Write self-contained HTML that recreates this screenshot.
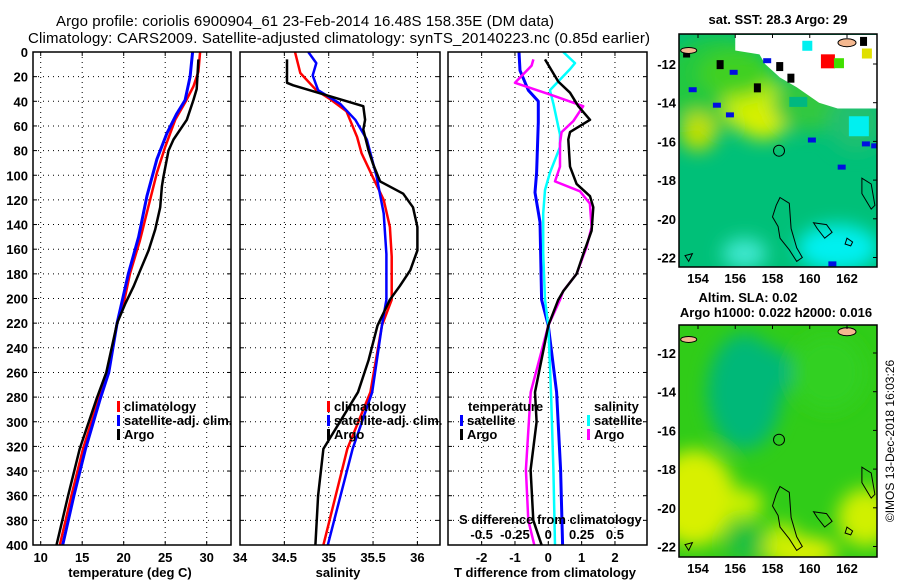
<!DOCTYPE html>
<html><head><meta charset="utf-8"><style>
html,body{margin:0;padding:0;background:#fff;}
svg{display:block;font-family:"Liberation Sans",sans-serif;}
.tk{font-size:13px;font-weight:bold;}
</style></head><body>
<svg id="s" width="900" height="580" viewBox="0 0 900 580" xmlns="http://www.w3.org/2000/svg">
<defs>
<filter id="bl" x="-50%" y="-50%" width="200%" height="200%"><feGaussianBlur stdDeviation="9"/></filter>
<clipPath id="c1"><rect x="33" y="52" width="198" height="493"/></clipPath>
<clipPath id="c2"><rect x="240" y="52" width="200" height="493"/></clipPath>
<clipPath id="c3"><rect x="448" y="52" width="199" height="493"/></clipPath>
<clipPath id="m1"><rect x="679" y="34" width="198" height="233"/></clipPath>
<clipPath id="m2"><rect x="679" y="325" width="198" height="232"/></clipPath>
</defs>
<text x="305" y="26" font-size="15" text-anchor="middle" textLength="498">Argo profile: coriolis 6900904_61 23-Feb-2014 16.48S 158.35E (DM data)</text>
<text x="339" y="43" font-size="15" text-anchor="middle" textLength="622">Climatology: CARS2009. Satellite-adjusted climatology: synTS_20140223.nc (0.85d earlier)</text>
<g id="g"></g>
</svg>
<script>
// ---------- data ----------
const depthTicks=[0,20,40,60,80,100,120,140,160,180,200,220,240,260,280,300,320,340,360,380,400];
const tempTicks=[10,15,20,25,30];
const salTicks=[34,34.5,35,35.5,36];
const tdTicks=[-2,-1,0,1,2];
const sdTicks=[-0.5,-0.25,0,0.25,0.5];
const sdTickLabels=["-0.5","-0.25","0","0.25","0.5"];
// temperature profiles
const tArgoD=[6,30,39,55,71,80,101,109,126,144,161,177,190,204,220,260,282,322,360,400];
const tArgoV=[29.0,28.8,28.4,27.6,26.0,25.4,24.8,24.6,24.4,23.8,23.0,22.0,21.2,20.2,19.2,17.9,16.7,14.7,13.3,11.9];
const tClimD=[0,16,28,41,55,77,98,126,153,180,204,220,260,282,322,360,400];
const tClimV=[29.2,29.0,28.4,27.4,26.2,25.0,24.0,22.95,21.95,20.75,20.0,19.2,18.1,16.95,15.1,13.7,12.3];
const tSatD=[0,20,39,50,66,87,117,150,180,204,220,260,282,322,360,400];
const tSatV=[28.3,28.0,27.4,26.4,25.2,24.0,22.8,21.8,20.55,19.75,19.2,18.2,17.15,15.4,14.0,12.65];
// salinity profiles
const sArgoD=[6,25,27,44,55,63,80,91,105,115,126,142,161,177,190,201,222,250,276,322,360,400];
const sArgoV=[34.53,34.53,34.6,35.39,35.41,35.39,35.45,35.5,35.58,35.84,35.95,36.0,36.0,35.92,35.8,35.69,35.55,35.45,35.33,34.94,34.88,34.85];
const sClimD=[0,17,31,38,48,69,82,102,120,142,166,201,222,276,322,400];
const sClimV=[34.62,34.68,34.86,35.01,35.2,35.32,35.37,35.5,35.62,35.69,35.71,35.71,35.6,35.47,35.21,34.94];
const sSatD=[0,9,19,31,42,55,71,101,131,164,201,222,276,322,400];
const sSatV=[34.77,34.86,34.82,34.88,35.13,35.3,35.43,35.54,35.62,35.65,35.65,35.6,35.49,35.27,34.99];
// differences from climatology
const dTArgoD=[6,24,33,44,55,65,71,93,107,117,126,145,164,180,194,201,222,276,300,339,380,400];
const dTArgoV=[-0.1,0.3,0.65,0.9,1.25,0.65,0.6,0.65,0.85,1.25,1.35,1.3,1.05,0.85,0.45,0.3,0.0,-0.4,-0.35,-0.53,-0.45,-0.2];
const dTSatD=[0,15,31,40,57,98,114,138,201,222,276,339,400];
const dTSatV=[-0.88,-0.85,-0.6,-0.3,-0.3,-0.35,-0.4,-0.25,-0.2,0.0,0.25,0.37,0.43];
const dSArgoD=[6,11,25,35,44,56,65,74,93,105,113,123,142,158,180,194,201,222,276,339,380,400];
const dSArgoV=[-0.112,-0.125,-0.25,0.025,0.262,0.188,0.1,0.088,0.088,0.05,0.238,0.312,0.325,0.288,0.212,0.112,0.088,0.0,-0.132,-0.168,-0.15,-0.105];
const dSSatD=[0,9,14,31,42,67,77,98,112,131,163,201,222,276,339,400];
const dSSatV=[0.112,0.2,0.162,0.012,0.038,0.088,0.088,0.012,-0.025,-0.038,-0.038,-0.025,0.0,0.02,0.038,0.05];
// ---------- axes ----------
const Y=d=>52+d*1.2325;
const XT=v=>40.7+(v-10)*8.3;
const XS=v=>240+(v-34)*88.7;
const XD=v=>548.3+v*33.33;
const XSD=v=>548.3+v*4*33.33;
const NS="http://www.w3.org/2000/svg";
const G=document.getElementById('g');
function el(t,a,p){const e=document.createElementNS(NS,t);for(const k in a)e.setAttribute(k,a[k]);(p||G).appendChild(e);return e;}
function txt(x,y,s,a,p){const e=el('text',Object.assign({x:x,y:y},a||{}),p);e.textContent=s;return e;}
function line(D,V,fx,col,w,clip,name){
  const pts=D.map((d,i)=>fx(V[i]).toFixed(1)+','+Y(d).toFixed(1)).join(' ');
  const e=el('polyline',{points:pts,fill:'none',stroke:col,'stroke-width':w,'clip-path':'url(#'+clip+')','stroke-linejoin':'round'});
  
  
}
function panel(x0,x1,ticks,fx,labels,clip,title,tcx,name){
  const g=el('g',{});
  
  
  el('rect',{x:x0,y:52,width:x1-x0,height:493,fill:'#fff'},g);
  depthTicks.forEach(d=>{if(d>0&&d<400)el('line',{x1:x0,x2:x1,y1:Y(d),y2:Y(d),stroke:'#000','stroke-width':1,'stroke-dasharray':'1,4'},g);
    el('line',{x1:x0,x2:x0+4,y1:Y(d),y2:Y(d),stroke:'#000'},g);el('line',{x1:x1-4,x2:x1,y1:Y(d),y2:Y(d),stroke:'#000'},g);});
  ticks.forEach((t,i)=>{const x=fx(t);if(x>x0+2&&x<x1-2)el('line',{x1:x,x2:x,y1:52,y2:545,stroke:'#000','stroke-width':1,'stroke-dasharray':'1,4'},g);
    el('line',{x1:x,x2:x,y1:545,y2:541,stroke:'#000'},g);el('line',{x1:x,x2:x,y1:52,y2:56,stroke:'#000'},g);
    const lb=txt(x,562,labels[i],{'text-anchor':'middle','class':'tk'},g);
    
    });
  const tt=txt(tcx,577,title,{'text-anchor':'middle','class':'tk'},g);
  
  
  return g;
}
panel(33,231,tempTicks,XT,tempTicks.map(String),'c1','temperature (deg C)',130,'temperature-panel');
panel(240,440,salTicks,XS,salTicks.map(String),'c2','salinity',338,'salinity-panel');
panel(448,647,tdTicks,XD,tdTicks.map(String),'c3','T difference from climatology',545,'difference-panel');
depthTicks.forEach(d=>{const e=txt(28,Y(d)+5,String(d),{'text-anchor':'end','class':'tk'});
  
  });
// series
line(tClimD,tClimV,XT,'#f00',2.5,'c1','temp-climatology-line');
line(tSatD,tSatV,XT,'#00f',3,'c1','temp-satellite-line');
line(tArgoD,tArgoV,XT,'#000',2.5,'c1','temp-argo-line');
line(sClimD,sClimV,XS,'#f00',2.5,'c2','sal-climatology-line');
line(sSatD,sSatV,XS,'#00f',2.5,'c2','sal-satellite-line');
line(sArgoD,sArgoV,XS,'#000',2.5,'c2','sal-argo-line');
line(dTSatD,dTSatV,XD,'#00f',3,'c3','tdiff-satellite-line');
line(dSSatD,dSSatV,XSD,'#0ff',2.5,'c3','sdiff-satellite-line');
line(dSArgoD,dSArgoV,XSD,'#f0f',2.5,'c3','sdiff-argo-line');
line(dTArgoD,dTArgoV,XD,'#000',2.5,'c3','tdiff-argo-line');
// frames
[[33,231],[240,440],[448,647]].forEach(p=>el('rect',{x:p[0],y:52,width:p[1]-p[0],height:493,fill:'none',stroke:'#000','stroke-width':1.5}));
// legends
function leg(x,y,col,s,name){const g=el('g',{});
  el('rect',{x:x,y:y-10,width:3,height:11,fill:col},g);txt(x+7,y,s,{'class':'tk'},g);}
leg(117,411,'#f00','climatology','legend-climatology');
leg(117,425,'#00f','satellite-adj. clim.','legend-satellite-adj');
leg(117,439,'#000','Argo','legend-argo');
leg(327,411,'#f00','climatology','legend-sal-climatology');
leg(327,425,'#00f','satellite-adj. clim.','legend-sal-satellite-adj');
leg(327,439,'#000','Argo','legend-sal-argo');
txt(468,411,'temperature',{'class':'tk'});
leg(460,425,'#00f','satellite','legend-t-satellite');
leg(460,439,'#000','Argo','legend-t-argo');
txt(594,411,'salinity',{'class':'tk'});
leg(587,425,'#0ff','satellite','legend-s-satellite');
leg(587,439,'#f0f','Argo','legend-s-argo');
txt(459,524,'S difference from climatology',{'class':'tk'});
sdTicks.forEach((t,i)=>{const e=txt(XSD(t),539,sdTickLabels[i],{'text-anchor':'middle','class':'tk'});
  
  });
// ---------- maps ----------
const MX=lon=>698+(lon-154)*18.625;
function map(top,latTop,clip,name,blobs,base,extra){
  const MY=s=>latTop+(s-12)*19.35;
  const g=el('g',{});
  el('rect',{x:679,y:top,width:198,height:(name==='sst-map'?233:232),fill:base},g);
  const bg=el('g',{'clip-path':'url(#'+clip+')'},g);
  const fb=el('g',{filter:'url(#bl)'},bg);
  blobs.forEach(b=>el('ellipse',{cx:MX(b[0]),cy:MY(b[1]),rx:b[2]*18.6,ry:b[3]*19.3,fill:b[4]},fb));
  if(extra)extra(bg,MY);
  const coast=[[[158.4,18.9],[158.9,19.2],[159.0,20.5],[159.3,21.5],[159.6,22.0],[159.3,22.2],[158.9,21.6],[158.4,21.0],[158.3,20.4],[158.0,19.9],[158.2,19.3]],
   [[160.2,20.2],[160.9,20.3],[161.2,20.7],[160.8,21.0],[160.4,20.5]],
   [[162.8,17.9],[163.3,18.2],[163.5,19.3],[163.3,19.5],[162.8,18.7]],
   [[162.0,21.0],[162.3,21.2],[162.2,21.4],[161.9,21.3]],
   [[153.3,21.9],[153.7,21.8],[153.5,22.2]]];
  coast.forEach(c=>el('polygon',{points:c.map(p=>MX(p[0]).toFixed(1)+','+MY(p[1]).toFixed(1)).join(' '),fill:'none',stroke:'#000','stroke-width':1},bg));
  el('ellipse',{cx:MX(162),cy:MY(10.9),rx:9,ry:4,fill:'#f4b890',stroke:'#000'},bg);
  el('ellipse',{cx:MX(153.5),cy:MY(11.3),rx:8,ry:3,fill:'#f4b890',stroke:'#000'},bg);
  el('circle',{cx:MX(158.35),cy:MY(16.48),r:5.5,fill:'none',stroke:'#000','stroke-width':1},bg);
  el('rect',{x:679,y:top,width:198,height:(name==='sst-map'?233:232),fill:'none',stroke:'#000','stroke-width':1.5},g);
  [154,156,158,160,162].forEach(l=>{el('line',{x1:MX(l),x2:MX(l),y1:top,y2:top+4,stroke:'#000'},g);
    const e=txt(MX(l),top+(name==='sst-map'?233:232)+16,String(l),{'text-anchor':'middle','class':'tk'},g);
    });
  [12,14,16,18,20,22].forEach(l=>{el('line',{x1:873,x2:877,y1:MY(l),y2:MY(l),stroke:'#000'},g);
    const e=txt(676,MY(l)+5,'-'+l,{'text-anchor':'end','class':'tk'},g);
    });
}
map(34,64,'m1','sst-map',[
 [155,13,3,2.5,'#20c840'],[157,14,1.6,1.6,'#c8f000'],[157.5,15,1.3,0.9,'#d8f000'],[154,15.5,1.0,1.0,'#c0e000'],
 [156,12.5,2,1.2,'#40d020'],[160,14,2,1.5,'#30c840'],[162.5,15,1.5,1.5,'#20c070'],
 [161.5,21.5,2.2,1.2,'#00f0f0'],[156.5,21.8,1.2,0.8,'#40e8d0']
],'#00c078',(bg,MY)=>{
  el('polygon',{points:[[157,10.5],[164,10.5],[164,14.3],[161.5,14.3],[160.5,14],[159.3,13.2],[158.4,12.7],[157.6,12],[157.3,11.5],[156,11.3],[156,10.5]].map(p=>MX(p[0])+','+MY(p[1])).join(' '),fill:'#fff'},bg);
  el('rect',{x:MX(160.6),y:MY(11.5),width:14,height:14,fill:'#f00'},bg);
  el('rect',{x:MX(162.8),y:MY(11.2),width:10,height:10,fill:'#e0e000'},bg);
  el('rect',{x:MX(161.3),y:MY(11.7),width:10,height:10,fill:'#40e000'},bg);
  el('rect',{x:MX(159.6),y:MY(10.8),width:10,height:10,fill:'#00f0f0'},bg);
  el('rect',{x:MX(158.9),y:MY(13.7),width:18,height:10,fill:'#00b880'},bg);
  el('rect',{x:MX(162.1),y:MY(14.7),width:20,height:20,fill:'#00f0f0'},bg);
  [[155,11.8],[158.2,11.9],[158.8,12.5],[153.2,11.2],[162.7,10.6],[157,13.0]].forEach(p=>el('rect',{x:MX(p[0]),y:MY(p[1]),width:7,height:9,fill:'#000'},bg));
  [[154.8,14.0],[155.7,12.3],[153.5,13.2],[159.9,15.8],[161.5,17.2],[162.8,16.0],[157.5,11.7],[155.5,14.5],[163.3,16.1],[161,22.2]].forEach(p=>el('rect',{x:MX(p[0]),y:MY(p[1]),width:8,height:5,fill:'#0010e0'},bg));
});
map(325,353,'m2','sla-map',[
 [156.5,14,2,3,'#00b878'],[157,13,2.2,1.5,'#00b878'],[153.8,19.5,2.2,2.5,'#d8f000'],[156.5,19.8,1,0.8,'#c8f000'],
 [159.5,22.3,2,0.8,'#e0f000'],[163,20.5,1.5,1.5,'#d0f000'],[161,13,2,2,'#30d020'],[156.5,21.8,1,1,'#20c040'],[158.5,21.6,0.9,0.8,'#c8ee00']
],'#30cc18');
const ts=txt(0,0,'\u00a9IMOS 13-Dec-2018 16:03:26',{'font-size':'12','text-anchor':'middle',transform:'translate(894,441) rotate(-90)'});


const m1=txt(778,24,'sat. SST: 28.3 Argo: 29',{'text-anchor':'middle','class':'tk'});

const m2=txt(748,302,'Altim. SLA: 0.02',{'text-anchor':'middle','class':'tk'});

const m3=txt(776,317,'Argo h1000: 0.022 h2000: 0.016',{'text-anchor':'middle','class':'tk'});

</script>
</body></html>
